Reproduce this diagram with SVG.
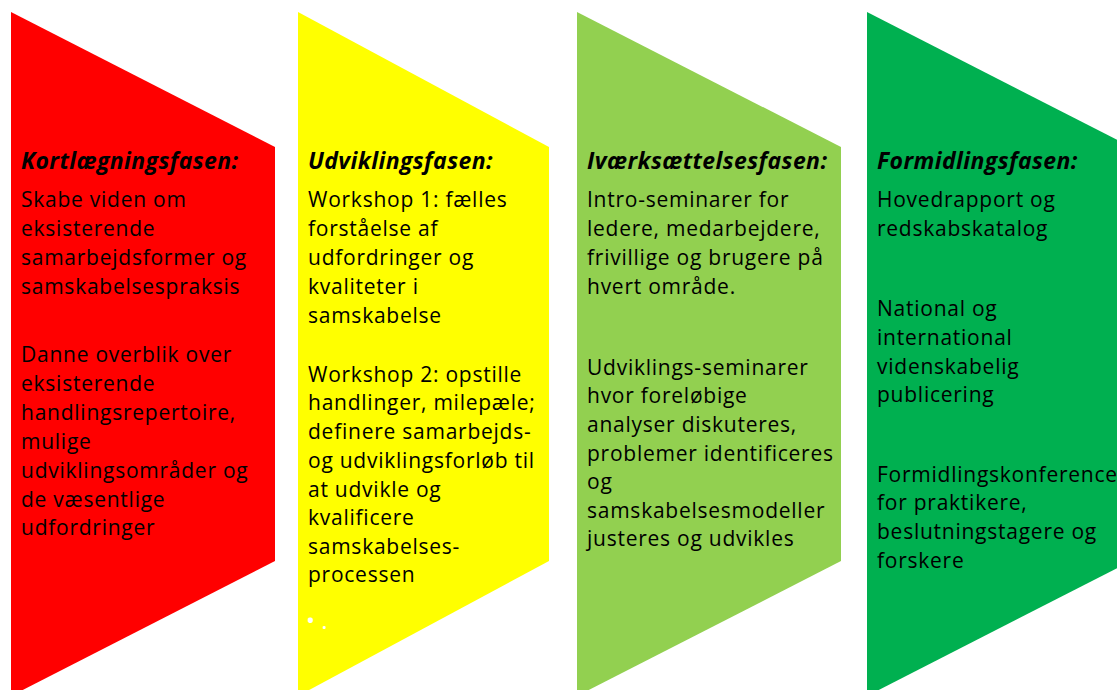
<svg xmlns="http://www.w3.org/2000/svg" width="1117" height="690" viewBox="0 0 1117 690">
<style>
text{font-family:"Open Sans","Noto Sans","DejaVu Sans",sans-serif;font-size:21px;letter-spacing:0.75px;fill:#000}
.h{font-weight:bold;font-style:italic;font-size:23px;letter-spacing:0.4px}
</style>
<rect width="1117" height="690" fill="#fff"/>
<g id="phase1">
<polygon points="11,12 275,147 275,561 11,696" fill="#ff0000"/>
<text class="h" x="21" y="169">Kortlægningsfasen:</text>
<text x="21" y="207">Skabe viden om</text>
<text x="21" y="236">eksisterende</text>
<text x="21" y="265">samarbejdsformer og</text>
<text x="21" y="294">samskabelsespraksis</text>
<text x="21" y="362">Danne overblik over</text>
<text x="21" y="391">eksisterende</text>
<text x="21" y="420">handlingsrepertoire,</text>
<text x="21" y="449">mulige</text>
<text x="21" y="478">udviklingsområder og</text>
<text x="21" y="507">de væsentlige</text>
<text x="21" y="535">udfordringer</text>
</g>
<g id="phase2">
<polygon points="298,12 549,147 549,561 298,696" fill="#ffff00"/>
<text class="h" x="308" y="169">Udviklingsfasen:</text>
<text x="308" y="207">Workshop 1: fælles</text>
<text x="308" y="236">forståelse af</text>
<text x="308" y="265">udfordringer og</text>
<text x="308" y="294">kvaliteter i</text>
<text x="308" y="323">samskabelse</text>
<text x="308" y="382">Workshop 2: opstille</text>
<text x="308" y="410">handlinger, milepæle;</text>
<text x="308" y="439">definere samarbejds-</text>
<text x="308" y="468">og udviklingsforløb til</text>
<text x="308" y="497">at udvikle og</text>
<text x="308" y="525">kvalificere</text>
<text x="308" y="554">samskabelses-</text>
<text x="308" y="582">processen</text>
<text x="306" y="629" style="fill:#fff;font-size:24px;letter-spacing:0">• .</text>
</g>
<g id="phase3">
<polygon points="577,12 841,147 841,561 577,696" fill="#92d050"/>
<text class="h" x="587" y="169">Iværksættelsesfasen:</text>
<text x="587" y="207">Intro-seminarer for</text>
<text x="587" y="236">ledere, medarbejdere,</text>
<text x="587" y="265">frivillige og brugere på</text>
<text x="587" y="294">hvert område.</text>
<text x="587" y="375">Udviklings-seminarer</text>
<text x="587" y="403">hvor foreløbige</text>
<text x="587" y="432">analyser diskuteres,</text>
<text x="587" y="461">problemer identificeres</text>
<text x="587" y="489">og</text>
<text x="587" y="518">samskabelsesmodeller</text>
<text x="587" y="546">justeres og udvikles</text>
</g>
<g id="phase4">
<polygon points="867,12 1131,147 1131,561 867,696" fill="#00b050"/>
<text class="h" x="877" y="169">Formidlingsfasen:</text>
<text x="877" y="207">Hovedrapport og</text>
<text x="877" y="236">redskabskatalog</text>
<text x="877" y="316">National og</text>
<text x="877" y="345">international</text>
<text x="877" y="374">videnskabelig</text>
<text x="877" y="402">publicering</text>
<text x="877" y="482">Formidlingskonference</text>
<text x="877" y="510">for praktikere,</text>
<text x="877" y="539">beslutningstagere og</text>
<text x="877" y="568">forskere</text>
</g>
<g id="connectors"></g>
</svg>
